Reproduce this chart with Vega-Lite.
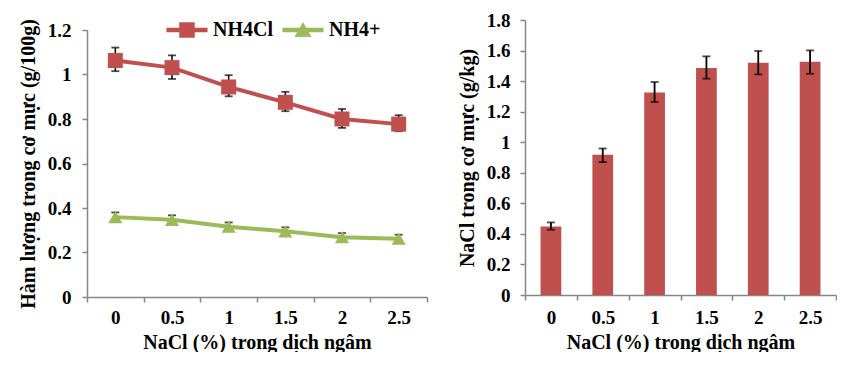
{
  "$schema": "https://vega.github.io/schema/vega-lite/v6.json",
  "background": "white",
  "padding": {"left": 18, "top": 11, "right": 0, "bottom": 0},
  "spacing": 29,
  "config": {
    "view": {"stroke": null},
    "font": "'Liberation Serif', 'Times New Roman', serif",
    "axis": {
      "grid": false,
      "domainColor": "#868686",
      "tickColor": "#868686",
      "domainWidth": 1.5,
      "tickWidth": 1.5,
      "tickSize": 5,
      "labelOverlap": false,
      "labelFlush": false,
      "labelFont": "'Liberation Serif', 'Times New Roman', serif",
      "labelFontSize": 19,
      "labelFontWeight": "bold",
      "labelColor": "black",
      "titleFont": "'Liberation Serif', 'Times New Roman', serif",
      "titleFontSize": 20,
      "titleFontWeight": "bold",
      "titleColor": "black"
    },
    "legend": {
      "labelFont": "'Liberation Serif', 'Times New Roman', serif",
      "labelFontSize": 20,
      "labelFontWeight": "bold",
      "labelColor": "black"
    }
  },
  "datasets": {
    "ammonia": [
      {"x": "0", "series": "NH4Cl", "v": 1.063, "lo": 1.015, "hi": 1.121},
      {"x": "0.5", "series": "NH4Cl", "v": 1.031, "lo": 0.980, "hi": 1.086},
      {"x": "1", "series": "NH4Cl", "v": 0.944, "lo": 0.902, "hi": 0.997},
      {"x": "1.5", "series": "NH4Cl", "v": 0.875, "lo": 0.835, "hi": 0.922},
      {"x": "2", "series": "NH4Cl", "v": 0.800, "lo": 0.760, "hi": 0.845},
      {"x": "2.5", "series": "NH4Cl", "v": 0.777, "lo": 0.745, "hi": 0.817},
      {"x": "0", "series": "NH4+", "v": 0.359, "lo": 0.339, "hi": 0.380},
      {"x": "0.5", "series": "NH4+", "v": 0.347, "lo": 0.328, "hi": 0.367},
      {"x": "1", "series": "NH4+", "v": 0.316, "lo": 0.298, "hi": 0.335},
      {"x": "1.5", "series": "NH4+", "v": 0.295, "lo": 0.278, "hi": 0.313},
      {"x": "2", "series": "NH4+", "v": 0.269, "lo": 0.252, "hi": 0.287},
      {"x": "2.5", "series": "NH4+", "v": 0.262, "lo": 0.245, "hi": 0.280}
    ],
    "salt": [
      {"x": "0", "v": 0.449, "lo": 0.427, "hi": 0.475},
      {"x": "0.5", "v": 0.918, "lo": 0.870, "hi": 0.959},
      {"x": "1", "v": 1.326, "lo": 1.263, "hi": 1.394},
      {"x": "1.5", "v": 1.486, "lo": 1.416, "hi": 1.562},
      {"x": "2", "v": 1.520, "lo": 1.444, "hi": 1.597},
      {"x": "2.5", "v": 1.527, "lo": 1.448, "hi": 1.601}
    ]
  },
  "hconcat": [
    {
      "width": 340,
      "height": 277,
      "data": {"name": "ammonia"},
      "encoding": {
        "x": {
          "field": "x", "type": "ordinal", "sort": null,
          "scale": {"paddingInner": 0, "paddingOuter": 0},
          "axis": {"labelAngle": 0, "tickBand": "extent", "labelPadding": 6, "titlePadding": 5},
          "title": "NaCl (%) trong dịch ngâm"
        },
        "y": {"field": "v", "type": "quantitative", "title": "Hàm lượng trong cơ mực (g/100g)",
              "scale": {"domain": [0, 1.2], "range": [277, 10]},
              "axis": {"values": [0, 0.2, 0.4, 0.6, 0.8, 1, 1.2], "format": "~g", "labelPadding": 11, "titlePadding": 9}}
      },
      "layer": [
        {
          "mark": {"type": "rule", "color": "black", "strokeWidth": 1.5},
          "encoding": {
            "y": {"field": "lo", "type": "quantitative", "title": "Hàm lượng trong cơ mực (g/100g)",
                  "scale": {"domain": [0, 1.2], "range": [277, 10]},
                  "axis": {"values": [0, 0.2, 0.4, 0.6, 0.8, 1, 1.2], "format": "~g", "labelPadding": 11, "titlePadding": 9}},
            "y2": {"field": "hi"}
          }
        },
        {
          "mark": {"type": "tick", "color": "black", "thickness": 1.8, "size": 8},
          "encoding": {"y": {"field": "hi", "type": "quantitative", "title": "Hàm lượng trong cơ mực (g/100g)",
                  "scale": {"domain": [0, 1.2], "range": [277, 10]},
                  "axis": {"values": [0, 0.2, 0.4, 0.6, 0.8, 1, 1.2], "format": "~g", "labelPadding": 11, "titlePadding": 9}}}
        },
        {
          "mark": {"type": "tick", "color": "black", "thickness": 1.8, "size": 8},
          "encoding": {"y": {"field": "lo", "type": "quantitative", "title": "Hàm lượng trong cơ mực (g/100g)",
                  "scale": {"domain": [0, 1.2], "range": [277, 10]},
                  "axis": {"values": [0, 0.2, 0.4, 0.6, 0.8, 1, 1.2], "format": "~g", "labelPadding": 11, "titlePadding": 9}}}
        },
        {
          "mark": {"type": "line", "strokeWidth": 4},
          "encoding": {
            "color": {"field": "series", "type": "nominal",
                      "scale": {"domain": ["NH4Cl", "NH4+"], "range": ["#C0504D", "#9BBB59"]},
                      "legend": {
                        "title": null, "orient": "none", "direction": "horizontal",
                        "legendX": 90, "legendY": 0, "padding": 0,
                        "symbolSize": 225, "labelOffset": 16, "columnPadding": 8,
                        "symbolStrokeWidth": 0.5,
                        "encode": {"symbols": {"update": {
                          "shape": {"signal": "datum.value === 'NH4Cl' ? 'M-2.7,-0.27 H2.7 V0.27 H-2.7 Z M-1,-1 H1 V1 H-1 Z' : 'M-2.7,-0.27 H2.7 V0.27 H-2.7 Z M0,-1 L1.1,0.9 H-1.1 Z'"},
                          "fill": {"signal": "datum.value === 'NH4Cl' ? '#C0504D' : '#9BBB59'"},
                          "stroke": {"signal": "datum.value === 'NH4Cl' ? '#C0504D' : '#9BBB59'"},
                          "opacity": {"value": 1}
                        }}}
                      }}
          }
        },
        {
          "transform": [{"filter": "datum.series === 'NH4Cl'"}],
          "mark": {"type": "point", "filled": true, "opacity": 1, "shape": "square", "size": 225},
          "encoding": {
            "color": {"field": "series", "type": "nominal",
                      "scale": {"domain": ["NH4Cl", "NH4+"], "range": ["#C0504D", "#9BBB59"]}}
          }
        },
        {
          "transform": [{"filter": "datum.series === 'NH4+'"}],
          "mark": {"type": "point", "filled": true, "opacity": 1, "shape": "triangle-up", "size": 200},
          "encoding": {
            "color": {"field": "series", "type": "nominal",
                      "scale": {"domain": ["NH4Cl", "NH4+"], "range": ["#C0504D", "#9BBB59"]}}
          }
        }
      ]
    },
    {
      "width": 311,
      "height": 275,
      "data": {"name": "salt"},
      "encoding": {
        "x": {
          "field": "x", "type": "ordinal", "sort": null,
          "scale": {"paddingInner": 0, "paddingOuter": 0},
          "axis": {"labelAngle": 0, "tickBand": "extent", "labelPadding": 8, "titlePadding": 5},
          "title": "NaCl (%) trong dịch ngâm"
        }
      },
      "layer": [
        {
          "mark": {"type": "bar", "color": "#C0504D", "width": {"band": 0.4}},
          "encoding": {
            "y": {"field": "v", "type": "quantitative", "title": "NaCl trong cơ mực (g/kg)",
                  "scale": {"domain": [0, 1.8]},
                  "axis": {"values": [0, 0.2, 0.4, 0.6, 0.8, 1, 1.2, 1.4, 1.6, 1.8], "format": "~g", "labelPadding": 10, "titlePadding": 9}}
          }
        },
        {
          "mark": {"type": "rule", "color": "black", "strokeWidth": 1.8},
          "encoding": {
            "y": {"field": "lo", "type": "quantitative", "title": "NaCl trong cơ mực (g/kg)",
                  "scale": {"domain": [0, 1.8]},
                  "axis": {"values": [0, 0.2, 0.4, 0.6, 0.8, 1, 1.2, 1.4, 1.6, 1.8], "format": "~g", "labelPadding": 10, "titlePadding": 9}},
            "y2": {"field": "hi"}
          }
        },
        {
          "mark": {"type": "tick", "color": "black", "thickness": 1.8, "size": 8},
          "encoding": {"y": {"field": "hi", "type": "quantitative", "title": "NaCl trong cơ mực (g/kg)",
                  "scale": {"domain": [0, 1.8]},
                  "axis": {"values": [0, 0.2, 0.4, 0.6, 0.8, 1, 1.2, 1.4, 1.6, 1.8], "format": "~g", "labelPadding": 10, "titlePadding": 9}}}
        },
        {
          "mark": {"type": "tick", "color": "black", "thickness": 1.8, "size": 8},
          "encoding": {"y": {"field": "lo", "type": "quantitative", "title": "NaCl trong cơ mực (g/kg)",
                  "scale": {"domain": [0, 1.8]},
                  "axis": {"values": [0, 0.2, 0.4, 0.6, 0.8, 1, 1.2, 1.4, 1.6, 1.8], "format": "~g", "labelPadding": 10, "titlePadding": 9}}}
        }
      ]
    }
  ]
}
